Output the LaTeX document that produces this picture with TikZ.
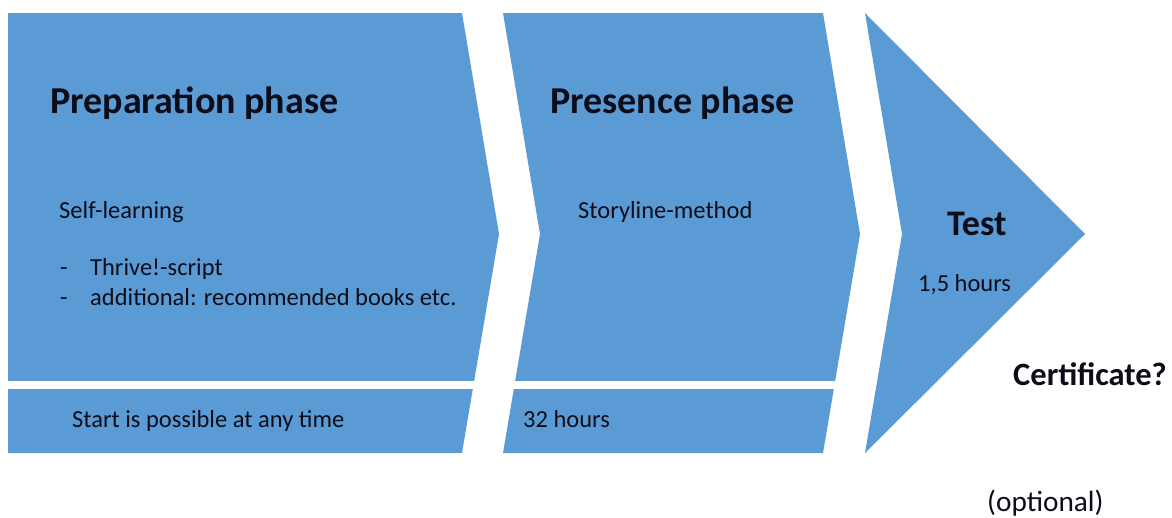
\documentclass[tikz,border=0pt]{standalone}
\usepackage{fontspec}
\setmainfont{Carlito}
\definecolor{blu}{HTML}{5B9BD5}
\definecolor{ink}{HTML}{0D0D1A}
\tikzset{
  phase/.style={fill=blu, draw=none},
  head/.style={font=\fontsize{38}{42}\selectfont\bfseries, text=ink, inner sep=0pt, anchor=base west},
  body/.style={font=\fontsize{24.5}{28}\selectfont, text=ink, inner sep=0pt, anchor=base west},
}
\begin{document}
\begin{tikzpicture}[x=1pt,y=-1pt]
\useasboundingbox (0,0) rectangle (1172,517);
\fill[white] (0,0) rectangle (1172,517);
% chevrons
\fill[phase] (8,13) -- (462,13) -- (499,234) -- (462,453) -- (8,453) -- cycle;
\fill[phase] (503,13) -- (823,13) -- (860,234) -- (823,453) -- (503,453) -- (540,234) -- cycle;
\fill[phase] (865,13) -- (1085,234) -- (865,453) -- (902,234) -- cycle;
% white separating band
\fill[white] (0,380.5) rectangle (850,388.5);
% texts
\node[head] (prep) at (50,113) {Preparation phase};
\node[head] (pres) at (550,113) {Presence phase};
\node[head, font=\fontsize{36}{40}\selectfont\bfseries] (test) at (947,235) {Test};
\node[body] (self) at (59,218) {Self-learning};
\node[body] (d1) at (60,275) {-};
\node[body] (l1) at (90,275) {Thrive!-script};
\node[body] (d2) at (60,305) {-};
\node[body] (l2) at (90,305) {additional: recommended books etc.};
\node[body] (story) at (578,218) {Storyline-method};
\node[body] (hrs) at (918,291) {1,5 hours};
\node[body] (start) at (72,427) {Start is possible at any time};
\node[body] (h32) at (523,427) {32 hours};
\node[head, font=\fontsize{32.5}{36}\selectfont\bfseries] (cert) at (1013,385) {Certificate?};
\node[body, font=\fontsize{29.3}{32}\selectfont] (opt) at (987,511) {(optional)};
\end{tikzpicture}
\end{document}
